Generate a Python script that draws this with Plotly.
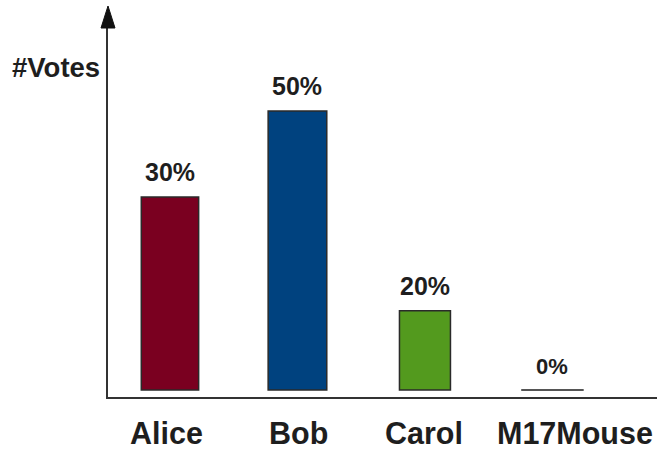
import plotly.graph_objects as go

# ---- data ----
candidates = ["Alice", "Bob", "Carol", "M17Mouse"]
votes = [34.6, 50, 14.2, 0]
share_labels = ["30%", "50%", "20%", "0%"]

# ---- styles ----
bar_colors = ["#7a0020", "#00427f", "#539a1e", "#555555"]
line_colors = ["#2a2a2a", "#2a2a2a", "#2a2a2a", "#555555"]
line_widths = [1.5, 1.5, 1.5, 2]
bar_widths = [0.45, 0.46, 0.40, 0.49]
label_sizes = [25, 25, 25, 22]
cat_xshift = [-3, 1, -1, 23]
cat_size = 30.5
FONT = "Liberation Sans"
TXT = "#1e1e1e"

fig = go.Figure()
fig.add_trace(go.Bar(
    x=candidates, y=votes, width=bar_widths,
    marker=dict(color=bar_colors, line=dict(color=line_colors, width=line_widths)),
    hoverinfo="skip",
))

# percentage labels above bars
for c, v, t, s in zip(candidates, votes, share_labels, label_sizes):
    fig.add_annotation(x=c, y=v, text=t, showarrow=False, yanchor="bottom", yshift=9,
                       font=dict(family=FONT, size=s, color=TXT, weight="bold"))

# category labels below axis
for c, dx in zip(candidates, cat_xshift):
    fig.add_annotation(x=c, y=0, yref="paper", text=c, showarrow=False, yanchor="middle",
                       yshift=-36, xshift=dx,
                       font=dict(family=FONT, size=cat_size, color=TXT, weight="bold"))

# y-axis title
fig.add_annotation(x=0, y=0.8916, xref="paper", yref="paper", text="#Votes", showarrow=False,
                   xanchor="right", yanchor="middle", xshift=-6,
                   font=dict(family=FONT, size=27.5, color=TXT, weight="bold"))

# arrowhead at top of y axis
fig.add_shape(type="path", xref="paper", yref="paper", xsizemode="pixel", ysizemode="pixel",
              xanchor=0, yanchor=1, path="M-7,0 L7,0 L0,22 Z",
              fillcolor="#111111", line=dict(color="#111111", width=1))

fig.update_layout(
    width=657, height=449,
    margin=dict(l=108, r=0, t=28, b=52),
    paper_bgcolor="white", plot_bgcolor="white",
    showlegend=False,
    xaxis=dict(range=[-0.486, 3.82], showline=True, linecolor="#333333", linewidth=2,
               showticklabels=False, ticks="", showgrid=False, zeroline=False),
    yaxis=dict(range=[-1.254, 64.87], showline=True, linecolor="#333333", linewidth=2,
               showticklabels=False, ticks="", showgrid=False, zeroline=False),
)

fig.write_html("out.html")
